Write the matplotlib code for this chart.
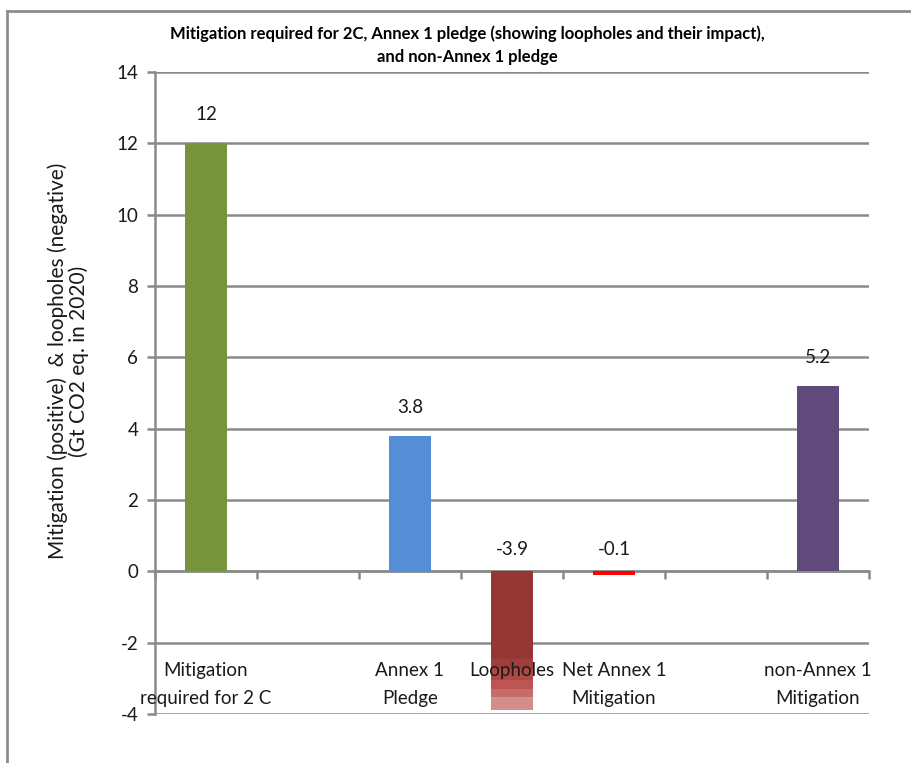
import matplotlib.pyplot as plt
from matplotlib.lines import Line2D

# data
categories = ['Mitigation\nrequired for 2 C', '', 'Annex 1\nPledge', 'Loopholes',
              'Net Annex 1\nMitigation', '', 'non-Annex 1\nMitigation']
values = [12, None, 3.8, -3.9, -0.1, None, 5.2]
bar_colors = ['#77933c', None, '#558ed5', None, '#ff0000', None, '#604a7b']
value_labels = ['12', '', '3.8', '-3.9', '-0.1', '', '5.2']

# the loopholes bar is built from several stacked pieces
loophole_parts = [-2.46, -0.27, -0.33, -0.23, -0.23, -0.38]
loophole_colors = ['#953735', '#a13e3c', '#b04846', '#bd5553', '#c86c6a', '#d38e8c']

y_ticks = [-4, -2, 0, 2, 4, 6, 8, 10, 12, 14]

plt.rcParams['font.family'] = ['Lato', 'DejaVu Sans']

fig = plt.figure(figsize=(9.12, 7.63), dpi=100)
ax = fig.add_axes([155 / 912, 1 - 714 / 763, 714 / 912, 642 / 763])

grid_col = '#8a8a8a'

for i, v in enumerate(values):
    if v is None or i == 3:
        continue
    ax.bar(i, v, width=0.42, color=bar_colors[i], zorder=3)

bottom = 0
for part, col in zip(loophole_parts, loophole_colors):
    ax.bar(3, part, width=0.42, bottom=bottom, color=col, zorder=3)
    bottom += part

# value labels above the bars (above zero for negatives)
for i, v in enumerate(values):
    if v is None:
        continue
    ypos = v + 0.8 if v > 0 else 0.6
    ax.text(i, ypos, value_labels[i], ha='center', va='center', fontsize=13.5, color='#1a1a1a', zorder=5)

# category names, drawn low in the plot area like the original
for i, name in enumerate(categories):
    if name:
        ax.text(i, -2.55, name, ha='center', va='top', fontsize=13.5,
                color='#1a1a1a', linespacing=1.75, zorder=5)

ax.set_xlim(-0.5, len(categories) - 0.5)
ax.set_ylim(-4, 14)
ax.set_yticks(y_ticks)
ax.set_yticklabels([str(t) for t in y_ticks], fontsize=13.5, color='#1a1a1a')
ax.set_xticks([b - 0.5 for b in range(len(categories) + 1)])
ax.set_xticklabels([])

ax.yaxis.grid(True, color=grid_col, linewidth=1.8, zorder=0)
ax.set_axisbelow(True)

for side in ['top', 'right']:
    ax.spines[side].set_visible(False)
ax.spines['bottom'].set_position(('data', 0))
ax.spines['bottom'].set_color(grid_col)
ax.spines['bottom'].set_linewidth(1.8)
ax.spines['left'].set_color(grid_col)
ax.spines['left'].set_linewidth(1.8)
ax.tick_params(axis='x', direction='out', length=6, width=1.8, color=grid_col)
ax.tick_params(axis='y', direction='out', length=6, width=1.8, color=grid_col, pad=6)

ax.set_ylabel('Mitigation (positive)  & loopholes (negative)\n(Gt CO2 eq. in 2020)',
              fontsize=15, color='#1a1a1a', linespacing=1.05)
ax.yaxis.set_label_coords(-0.092, 0.55)

fig.text(0.513, 1 - 45 / 763,
         'Mitigation required for 2C, Annex 1 pledge (showing loopholes and their impact),\nand non-Annex 1 pledge',
         ha='center', va='center', fontsize=12, fontweight='bold', linespacing=1.5)

# grey chart frame
fig.add_artist(Line2D([7 / 912, 1.0], [1 - 11 / 763] * 2, transform=fig.transFigure,
                      color='#8c8c8c', linewidth=2))
fig.add_artist(Line2D([7 / 912] * 2, [0.0, 1 - 11 / 763], transform=fig.transFigure,
                      color='#8c8c8c', linewidth=2))

fig.savefig('out.png', dpi=100)
